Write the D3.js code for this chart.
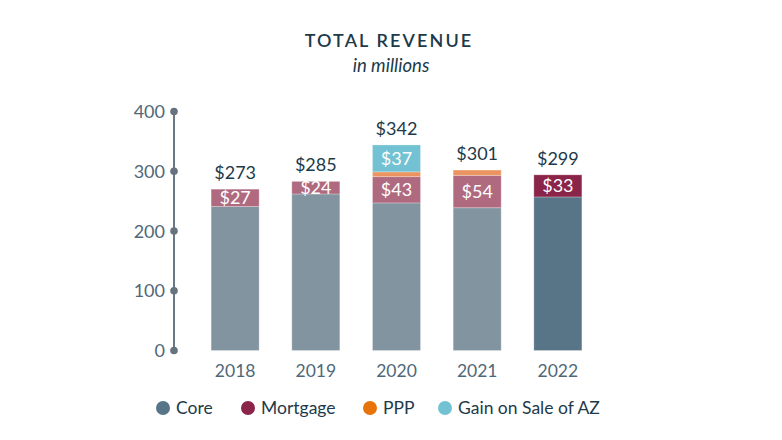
<!DOCTYPE html>
<html>
<head>
<meta charset="utf-8">
<script src="https://cdn.jsdelivr.net/npm/d3@7"></script>
<style>
  html, body { margin: 0; padding: 0; background: #fff; }
  svg { display: block; font-family: Lato, "Open Sans", sans-serif; }
</style>
</head>
<body>
<svg id="chart" width="782" height="440"></svg>
<script>
// ---- data ----
const years = ["2018", "2019", "2020", "2021", "2022"];
const core = [241, 262, 247, 239, 257];
const mortgage = [29, 21, 44, 54, 37];
const ppp = [0, 0, 8, 9, 0];
const gainAZ = [0, 0, 45, 0, 0];
const totalLabels = ["$273", "$285", "$342", "$301", "$299"];
const mortgageLabels = ["$27", "$24", "$43", "$54", "$33"];
const gainLabels = ["", "", "$37", "", ""];
const yTicks = [0, 100, 200, 300, 400];
const seriesNames = ["Core", "Mortgage", "PPP", "Gain on Sale of AZ"];

// ---- styles ----
const colFull = { core: "#587487", mortgage: "#8b2449", ppp: "#e8720c", gain: "#72c2d4" };
const colFaded = { core: "#8394a1", mortgage: "#b06a80", ppp: "#eb9461", gain: "#72c2d4" };
const dark = "#1d3a4a";
const axisText = "#4f6878";

const svg = d3.select("#chart");

const x = d3.scaleBand().domain(years).range([195, 598]).paddingInner(0.405).paddingOuter(0.2);
const y = d3.scaleLinear().domain([0, 400]).range([350.5, 111.5]);

// title
svg.append("text").attr("x", 389).attr("y", 47).attr("text-anchor", "middle")
  .attr("fill", dark).attr("font-size", 18).attr("font-weight", 600).attr("letter-spacing", 2.1)
  .text("TOTAL REVENUE");
svg.append("text").attr("x", 391).attr("y", 72).attr("text-anchor", "middle")
  .attr("fill", dark).attr("font-size", 18.5).attr("font-style", "italic")
  .text("in millions");

// y axis
const axisX = 174;
svg.append("line").attr("x1", axisX).attr("x2", axisX).attr("y1", y(0)).attr("y2", y(400))
  .attr("stroke", "#6a7884").attr("stroke-width", 2);
svg.selectAll(".ydot").data(yTicks).join("circle")
  .attr("cx", axisX).attr("cy", d => y(d)).attr("r", 3.8).attr("fill", "#66737e");
svg.selectAll(".ylab").data(yTicks).join("text")
  .attr("x", 165).attr("y", d => y(d) + 6.5).attr("text-anchor", "end")
  .attr("fill", axisText).attr("font-size", 18).text(d => d);

// stacked bars
const rows = years.map((yr, i) => ({ year: yr, core: core[i], mortgage: mortgage[i], ppp: ppp[i], gain: gainAZ[i], i }));
const keys = ["core", "mortgage", "ppp", "gain"];
const stack = d3.stack().keys(keys)(rows);

stack.forEach(layer => {
  svg.selectAll(".seg-" + layer.key).data(layer).join("rect")
    .attr("x", d => x(d.data.year))
    .attr("width", x.bandwidth())
    .attr("y", d => y(d[1]))
    .attr("height", d => Math.max(0, y(d[0]) - y(d[1])))
    .attr("fill", d => (d.data.i === 4 ? colFull : colFaded)[layer.key])
    .attr("stroke", "rgba(255,255,255,0.25)").attr("stroke-width", 1);
});

// segment labels
const mLayer = stack[1], gLayer = stack[3];
svg.selectAll(".mlab").data(mLayer).join("text")
  .attr("x", d => x(d.data.year) + x.bandwidth() / 2)
  .attr("y", d => (y(d[0]) + y(d[1])) / 2 + 6.5)
  .attr("text-anchor", "middle").attr("fill", "#fff").attr("font-size", 18)
  .text((d, i) => mortgageLabels[i]);
svg.selectAll(".glab").data(gLayer.filter((d, i) => gainLabels[i])).join("text")
  .attr("x", d => x(d.data.year) + x.bandwidth() / 2)
  .attr("y", d => (y(d[0]) + y(d[1])) / 2 + 6.5)
  .attr("text-anchor", "middle").attr("fill", "#fff").attr("font-size", 18)
  .text(d => gainLabels[d.data.i]);

// total labels
svg.selectAll(".tlab").data(stack[3]).join("text")
  .attr("x", d => x(d.data.year) + x.bandwidth() / 2)
  .attr("y", d => y(d[1]) - 10)
  .attr("text-anchor", "middle").attr("fill", dark).attr("font-size", 18)
  .text(d => totalLabels[d.data.i]);

// x labels
svg.selectAll(".xlab").data(years).join("text")
  .attr("x", d => x(d) + x.bandwidth() / 2).attr("y", 377)
  .attr("text-anchor", "middle").attr("fill", axisText).attr("font-size", 17.5)
  .text(d => d);

// legend
const legendX = [163, 248, 370, 445];
const legendCols = [colFull.core, colFull.mortgage, colFull.ppp, colFull.gain];
const lg = svg.selectAll(".leg").data(seriesNames).join("g")
  .attr("transform", (d, i) => `translate(${legendX[i]},408)`);
lg.append("circle").attr("r", 7).attr("fill", (d, i) => legendCols[i]);
lg.append("text").attr("x", 13).attr("y", 6).attr("fill", dark).attr("font-size", 17.5).text(d => d);
</script>
</body>
</html>
